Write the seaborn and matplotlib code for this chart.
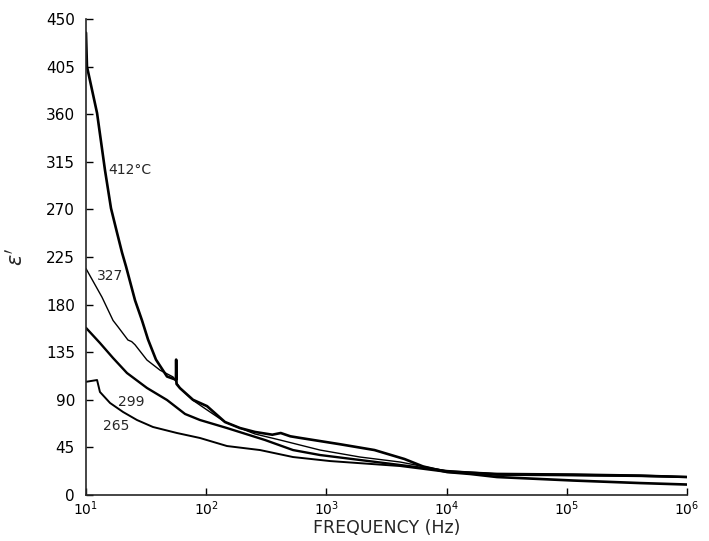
import numpy as np
import pandas as pd
import matplotlib
matplotlib.use("Agg")
import matplotlib.pyplot as plt
from matplotlib.ticker import NullLocator, FixedLocator, LogFormatterMathtext
import seaborn as sns

# Real permittivity vs. frequency, one series per temperature.
# Frequencies are stored as log10(Hz).
logf_412 = [1.000, 1.008, 1.092, 1.158, 1.208, 1.258, 1.300, 1.333, 1.408, 1.466,
            1.516, 1.582, 1.674, 1.748, 1.750, 1.753, 1.782, 1.890, 2.007, 2.156,
            2.281, 2.406, 2.550, 2.620, 2.700, 2.780, 3.113, 3.400, 3.650, 3.804,
            4.003, 4.195, 4.419, 5.052, 5.609, 6.000]
eps_412 = [437, 405, 361, 307, 271, 248, 229, 216, 184, 165,
           147, 128, 112, 109, 128, 105, 101, 90, 84, 69,
           63.3, 59.6, 57.0, 58.6, 55.5, 54.0, 48.0, 42.5, 34.0, 27.0,
           21.7, 19.9, 17.0, 13.7, 11.3, 9.9]

logf_327 = [1.000, 1.133, 1.225, 1.266, 1.349, 1.380, 1.408, 1.507, 1.616, 1.724,
            1.782, 1.890, 2.007, 2.156, 2.281, 2.406, 2.614, 2.947, 3.280, 3.612,
            4.003, 4.419, 5.052, 5.609, 6.000]
eps_327 = [214, 187, 165, 159, 146.5, 145, 142, 127.6, 118, 111.6,
           101, 89.5, 80.4, 69, 63.3, 57.7, 52.0, 42.5, 35.9, 31.2,
           22.7, 20.5, 19.9, 18.9, 17.5]

logf_299 = [1.000, 1.116, 1.225, 1.341, 1.507, 1.674, 1.824, 1.948, 2.173, 2.489,
            2.722, 2.947, 3.280, 3.612, 4.003, 4.419, 5.052, 5.609, 6.000]
eps_299 = [158, 143.7, 129.5, 115.3, 101.2, 89.8, 76.6, 70.9, 63.3, 52.0,
           42.5, 37.8, 33.1, 28.4, 22.7, 19.5, 19.0, 18.2, 17.0]

logf_265 = [1.000, 1.092, 1.116, 1.200, 1.308, 1.424, 1.557, 1.757, 1.948, 2.173,
            2.448, 2.722, 3.030, 3.612, 4.003, 4.419, 5.052, 5.609, 6.000]
eps_265 = [107, 108.7, 97.4, 87, 78.5, 70.9, 64.3, 58.6, 53.9, 46.3,
           42.5, 35.9, 32.1, 27.4, 21.7, 19.0, 18.5, 17.8, 16.8]

curve_labels = ["412\u00b0C", "327", "299", "265"]
y_ticks = [0, 45, 90, 135, 180, 225, 270, 315, 360, 405, 450]
x_ticks = [1e1, 1e2, 1e3, 1e4, 1e5, 1e6]

sns.set_style("ticks")
plt.rcParams["font.family"] = ["DejaVu Sans"]

fig = plt.figure(figsize=(7.09, 5.41), dpi=100)
ax = fig.add_axes([0.1213, 0.085, 0.8477, 0.880])

series = [(logf_412, eps_412, 1.9),
          (logf_327, eps_327, 1.0),
          (logf_299, eps_299, 1.7),
          (logf_265, eps_265, 1.4)]
for logf, eps, lw in series:
    df = pd.DataFrame({"freq": np.power(10.0, logf), "eps": eps})
    sns.lineplot(data=df, x="freq", y="eps", ax=ax, color="black",
                 linewidth=lw, sort=False, estimator=None)

ax.set_xscale("log")
ax.set_xlim(1e1, 1e6)
ax.set_ylim(0, 450)
ax.xaxis.set_major_locator(FixedLocator(x_ticks))
ax.xaxis.set_major_formatter(LogFormatterMathtext())
ax.xaxis.set_minor_locator(NullLocator())
ax.yaxis.set_major_locator(FixedLocator(y_ticks))

sns.despine(ax=ax)
for side in ("left", "bottom"):
    ax.spines[side].set_linewidth(1.2)
ax.tick_params(axis="both", direction="in", length=5, width=1.0,
               colors="black")
ax.tick_params(axis="y", pad=8, labelsize=11)
ax.tick_params(axis="x", pad=3, labelsize=10)

ax.set_xlabel("FREQUENCY (Hz)", fontsize=12.5, labelpad=1)
ax.set_ylabel(r"$\epsilon'$", fontsize=15, labelpad=14)

# curve annotations
ax.text(10 ** 1.185, 307, curve_labels[0], fontsize=10, va="center", ha="left")
ax.text(10 ** 1.095, 207, curve_labels[1], fontsize=10, va="center", ha="left")
ax.text(10 ** 1.266, 88, curve_labels[2], fontsize=10, va="center", ha="left")
ax.text(10 ** 1.140, 65, curve_labels[3], fontsize=10, va="center", ha="left")

fig.savefig("out.png", dpi=100)
